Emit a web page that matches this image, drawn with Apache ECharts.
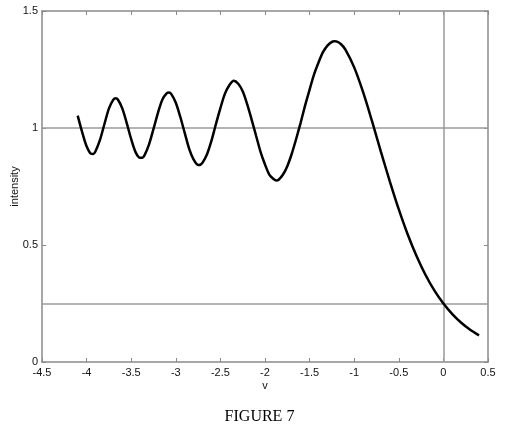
<!DOCTYPE html>
<html>
<head>
<meta charset="utf-8">
<script src="https://cdn.jsdelivr.net/npm/echarts@6/dist/echarts.min.js"></script>
<style>
html,body{margin:0;padding:0;background:#fff;}
#c{width:519px;height:437px;}
</style>
</head>
<body>
<div id="c"></div>
<script>
// Values
const vValues = [-4.10, -4.05, -4.00, -3.95, -3.925, -3.90, -3.85, -3.80, -3.75, -3.70, -3.675, -3.65, -3.60, -3.55, -3.50, -3.45, -3.40, -3.375, -3.35, -3.30, -3.25, -3.20, -3.15, -3.10, -3.075, -3.05, -3.00, -2.95, -2.90, -2.85, -2.80, -2.75, -2.725, -2.70, -2.65, -2.60, -2.55, -2.50, -2.45, -2.40, -2.35, -2.30, -2.25, -2.20, -2.15, -2.10, -2.05, -2.00, -1.95, -1.90, -1.875, -1.85, -1.80, -1.75, -1.70, -1.65, -1.60, -1.55, -1.50, -1.45, -1.40, -1.35, -1.30, -1.25, -1.225, -1.20, -1.15, -1.10, -1.0, -0.9, -0.8, -0.7, -0.6, -0.5, -0.4, -0.3, -0.2, -0.1, 0.0, 0.1, 0.2, 0.3, 0.4];
const intensity = [1.053, 0.983, 0.922, 0.890, 0.889, 0.901, 0.949, 1.017, 1.083, 1.121, 1.127, 1.122, 1.084, 1.021, 0.952, 0.896, 0.873, 0.873, 0.884, 0.930, 0.996, 1.065, 1.122, 1.149, 1.152, 1.145, 1.108, 1.048, 0.979, 0.911, 0.865, 0.842, 0.843, 0.852, 0.888, 0.946, 1.017, 1.085, 1.146, 1.183, 1.202, 1.189, 1.157, 1.102, 1.036, 0.967, 0.898, 0.844, 0.800, 0.781, 0.776, 0.778, 0.800, 0.837, 0.890, 0.954, 1.023, 1.097, 1.164, 1.229, 1.280, 1.324, 1.352, 1.368, 1.371, 1.370, 1.359, 1.336, 1.259, 1.153, 1.029, 0.898, 0.771, 0.652, 0.545, 0.452, 0.372, 0.305, 0.250, 0.205, 0.168, 0.138, 0.114];
const refHorizontal = [1, 0.25];
const refVertical = [0];
const xTicks = ['-4.5','-4','-3.5','-3','-2.5','-2','-1.5','-1','-0.5','0','0.5'];
const yTicks = ['0','0.5','1','1.5'];
const xLabel = 'v';
const yLabel = 'intensity';
const caption = 'FIGURE 7';

const chart = echarts.init(document.getElementById('c'), null, {renderer: 'canvas'});
const axisCol = '#8a8a8a';
const labelStyle = {color: '#111', fontFamily: 'Liberation Sans, Arial, sans-serif', fontSize: 11};
const fmt = v => String(Math.round(v * 10) / 10);

const baseX = {
  type: 'value', min: -4.5, max: 0.5, interval: 0.5,
  axisLine: {show: true, onZero: false, lineStyle: {color: axisCol, width: 1.5}},
  axisTick: {show: true, inside: true, length: 4, lineStyle: {color: axisCol, width: 1}},
  splitLine: {show: false}
};
const baseY = {
  type: 'value', min: 0, max: 1.5, interval: 0.5,
  axisLine: {show: true, onZero: false, lineStyle: {color: axisCol, width: 1.5}},
  axisTick: {show: true, inside: true, length: 4, lineStyle: {color: axisCol, width: 1}},
  splitLine: {show: false}
};

chart.setOption({
  animation: false,
  backgroundColor: '#fff',
  grid: {left: 42, right: 31, top: 11, bottom: 75, containLabel: false, outerBoundsMode: 'none'},
  title: {
    text: caption, left: 'center', top: 404,
    textStyle: {fontFamily: 'Liberation Serif, Times New Roman, serif', fontWeight: 'normal', fontSize: 16, color: '#000'}
  },
  xAxis: [
    Object.assign({}, baseX, {
      position: 'bottom',
      name: xLabel, nameLocation: 'middle', nameGap: 18, nameMoveOverlap: false,
      nameTextStyle: labelStyle,
      axisLabel: Object.assign({margin: 5, formatter: v => xTicks[Math.round((v + 4.5) / 0.5)] || fmt(v)}, labelStyle)
    }),
    Object.assign({}, baseX, {position: 'top', axisLabel: {show: false}})
  ],
  yAxis: [
    Object.assign({}, baseY, {
      position: 'left',
      name: yLabel, nameLocation: 'middle', nameGap: 22, nameMoveOverlap: false,
      nameTextStyle: labelStyle,
      axisLabel: Object.assign({margin: 4, formatter: v => yTicks[Math.round(v / 0.5)] || fmt(v)}, labelStyle)
    }),
    Object.assign({}, baseY, {position: 'right', axisLabel: {show: false}})
  ],
  series: [
    {
      type: 'line',
      xAxisIndex: 0, yAxisIndex: 0,
      data: vValues.map((v, i) => [v, intensity[i]]),
      showSymbol: false,
      smooth: 0.3,
      lineStyle: {color: '#000', width: 2.5},
      z: 5,
      markLine: {
        silent: true, symbol: 'none', label: {show: false},
        lineStyle: {color: '#9a9a9a', width: 1.5, type: 'solid'},
        data: refHorizontal.map(y => ({yAxis: y})).concat(refVertical.map(x => ({xAxis: x})))
      }
    }
  ]
});
</script>
</body>
</html>
